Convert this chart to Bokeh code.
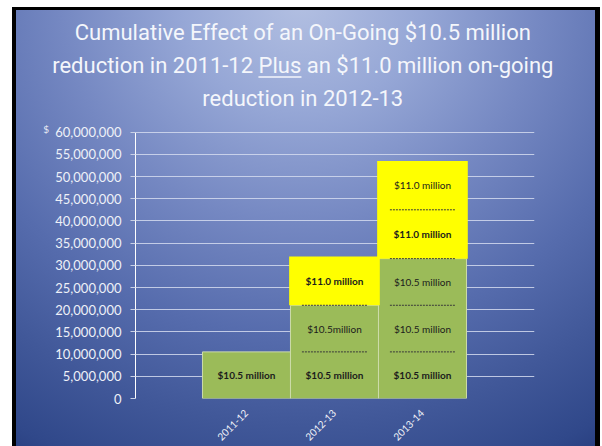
import math
from bokeh.plotting import figure
from bokeh.models import (ColumnDataSource, NumeralTickFormatter, FixedTicker, Label,
                          BoxAnnotation, Range1d)
from bokeh.core.properties import value
from bokeh.embed import file_html
from bokeh.resources import INLINE

# ---------------- data ----------------
years = ["2011-12", "2012-13", "2013-14"]
# green segments (on-going $10.5 million reduction, stacked per year)
green_segments = [[10.5e6], [10.5e6, 10.5e6], [10.5e6, 10.5e6, 10.5e6]]
green_labels = [["$10.5 million"],
                ["$10.5 million", "$10.5million"],
                ["$10.5 million", "$10.5 million", "$10.5 million"]]
green_bold = [[True], [True, False], [True, False, False]]
# yellow segments (on-going $11.0 million reduction)
yellow_segments = [[], [11.0e6], [11.0e6, 11.0e6]]
yellow_labels = [[], ["$11.0 million"], ["$11.0 million", "$11.0 million"]]
yellow_bold = [[], [True], [True, False]]
y_ticks = list(range(0, 60_000_001, 5_000_000))
y_max = 60_000_000

title_lines = ["Cumulative Effect of an On-Going $10.5 million",
               "reduction in 2011-12 Plus an $11.0 million on-going",
               "reduction in 2012-13"]

# ---------------- build sources ----------------
GREEN = "#9bbb59"
YELLOW = "#ffff00"
FONT = "Lato"

xs = list(range(len(years)))
green_tot = [sum(s) for s in green_segments]
yellow_tot = [sum(s) for s in yellow_segments]

bars_g = ColumnDataSource(dict(x=xs, top=green_tot, bottom=[0] * len(xs)))
yx, yb, yt = [], [], []
for i in xs:
    if yellow_tot[i] > 0:
        yx.append(i)
        yb.append(green_tot[i])
        yt.append(green_tot[i] + yellow_tot[i])
bars_y = ColumnDataSource(dict(x=yx, bottom=yb, top=yt))

lx, ly, lt, lst = [], [], [], []
sx0, sx1, sy = [], [], []
for i in xs:
    segs = green_segments[i] + yellow_segments[i]
    labs = green_labels[i] + yellow_labels[i]
    bolds = green_bold[i] + yellow_bold[i]
    base = 0.0
    for k, (v, lab, b) in enumerate(zip(segs, labs, bolds)):
        lx.append(i)
        ly.append(base + v / 2)
        lt.append(lab)
        lst.append("bold" if b else "normal")
        if k > 0:
            sx0.append(i - 0.37)
            sx1.append(i + 0.37)
            sy.append(base)
        base += v
labels_src = ColumnDataSource(dict(x=lx, y=ly, text=lt, style=lst))
seps_src = ColumnDataSource(dict(x0=sx0, x1=sx1, y=sy))

# ---------------- figure ----------------
# the frame is extended a little upwards (axis bounded to 0..60M) so the
# lower part of the slide title sits inside it
p = figure(width=602, height=446, output_backend="svg", toolbar_location=None,
           x_range=Range1d(-1.261, 3.273), y_range=Range1d(0, 75_230_000),
           min_border_left=135, min_border_right=68, min_border_top=64,
           min_border_bottom=48)
p.styles = {
    "background-image": ("radial-gradient(ellipse 100% 125% at 50% 0%, #b3c0e2 0%, #96a7d6 20%, "
                         "#7588c2 40%, #566cad 60%, #415899 76%, #30488a 90%, #1f3474 100%)"),
    "box-shadow": ("inset 12px 0 0 #ffffff, inset 0 7px 0 #ffffff, inset -2px 0 0 #ffffff, "
                   "inset 16px 0 0 #000000, inset 0 10px 0 #000000, inset -7px 0 0 #000000"),
}
p.background_fill_alpha = 0
p.border_fill_alpha = 0
p.outline_line_color = None

# bars
p.vbar(x="x", bottom="bottom", top="top", width=1.0, source=bars_g,
       fill_color=GREEN, line_color="#cddcaa", line_width=1)
p.vbar(x="x", bottom="bottom", top="top", width=1.03, source=bars_y,
       fill_color=YELLOW, line_color=None)
p.segment(x0="x0", x1="x1", y0="y", y1="y", source=seps_src,
          line_color="#3a3a3a", line_width=1, line_dash="2 1")
p.text(x="x", y="y", text="text", source=labels_src, text_font=value(FONT),
       text_font_size="10px", text_font_style="style", text_color="#1c1c1c",
       text_align="center", text_baseline="middle")

# axes
p.yaxis.ticker = FixedTicker(ticks=y_ticks)
p.yaxis.bounds = (0, y_max)
p.yaxis.formatter = NumeralTickFormatter(format="0,0")
p.yaxis.major_label_text_font = FONT
p.yaxis.major_label_text_font_size = "13px"
p.yaxis.major_label_text_color = "#eef1f8"
p.yaxis.major_label_standoff = 9
p.yaxis.axis_line_color = "#ffffff"
p.yaxis.axis_line_width = 1
p.yaxis.major_tick_line_color = "#c9d1e6"
p.yaxis.major_tick_out = 5
p.yaxis.major_tick_in = 0
p.yaxis.minor_tick_line_color = None

p.xaxis.ticker = FixedTicker(ticks=xs)
p.xaxis.major_label_overrides = {i: y for i, y in zip(xs, years)}
p.xaxis.major_label_orientation = math.pi / 4
p.xaxis.major_label_text_font = FONT
p.xaxis.major_label_text_font_size = "10px"
p.xaxis.major_label_text_color = "#f2f4fa"
p.xaxis.major_label_standoff = 13
p.xaxis.axis_line_color = None
p.xaxis.major_tick_line_color = None
p.xaxis.major_tick_out = 0
p.xaxis.minor_tick_line_color = None

p.xgrid.grid_line_color = None
p.ygrid.grid_line_color = "#d3dbee"
p.ygrid.grid_line_alpha = 0.85
p.ygrid.grid_line_width = 1

# "$" unit marker (in the left side panel so it is not clipped to the frame)
p.add_layout(Label(x=-2.31, y=60.8e6, text="$", text_font=FONT, text_font_size="10px",
                   text_color="#e6eaf4", text_align="left", text_baseline="middle"), "left")

# title (three centred lines); the two wide lines go in the top panel so that
# they are not clipped to the frame width
title_y = [82.43e6, 75.0e6, 67.57e6]
for k, (line, ty) in enumerate(zip(title_lines, title_y)):
    lbl = Label(x=0.64, y=ty, text=line, text_font="Roboto",
                text_font_size="22px", text_color="#f4f6fb", text_align="center",
                text_baseline="middle")
    if k < 2:
        p.add_layout(lbl, "above")
    else:
        p.add_layout(lbl)
# underline under "Plus"
p.add_layout(BoxAnnotation(left=0.136, right=0.625, bottom=72.23e6, top=72.57e6,
                           fill_color="#f4f6fb", fill_alpha=1, line_color=None))

open("out.html", "w").write(file_html(p, INLINE))
